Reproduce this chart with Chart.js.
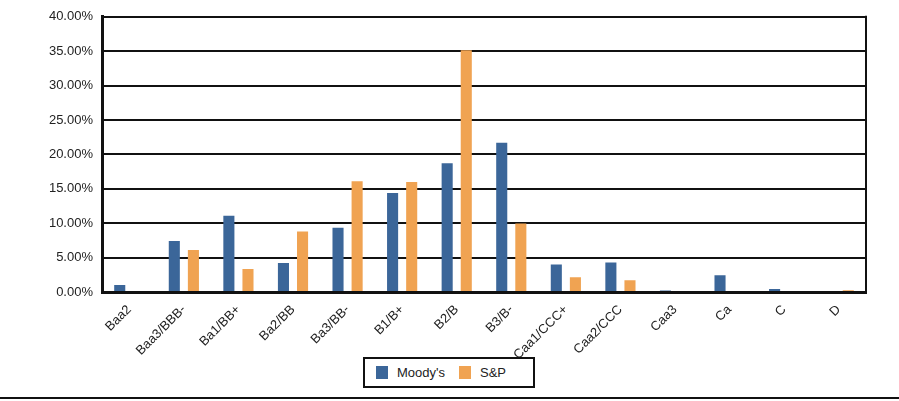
<!DOCTYPE html>
<html>
<head>
<meta charset="utf-8">
<script src="https://cdn.jsdelivr.net/npm/chart.js@4"></script>
<style>
  html, body { margin: 0; padding: 0; background: #fff; }
  #wrap { position: relative; width: 899px; height: 401px; overflow: hidden; }
  #chart { position: absolute; left: 0; top: 0; }
  #legend {
    position: absolute; left: 363px; top: 357px; width: 168px; height: 27px;
    border: 2px solid #111; background: #fff;
    font: 13px "Liberation Sans", Arial, sans-serif; color: #222;
  }
  #legend .item { position: absolute; top: 7px; line-height: 14px; }
  #legend .sw { display: inline-block; width: 12px; height: 13px; vertical-align: -2px; margin-right: 9px; }
  #rule { position: absolute; left: 0; top: 397px; width: 899px; height: 2px; background: #111; }
</style>
</head>
<body>
<div id="wrap">
  <canvas id="chart" width="899" height="401"></canvas>
  <div id="legend"></div>
  <div id="rule"></div>
</div>
<script>
// rating buckets and the share (%) for each agency
const ratings = ['Baa2', 'Baa3/BBB-', 'Ba1/BB+', 'Ba2/BB', 'Ba3/BB-', 'B1/B+', 'B2/B',
  'B3/B-', 'Caa1/CCC+', 'Caa2/CCC', 'Caa3', 'Ca', 'C', 'D'];
const moodys = [1.0, 7.4, 11.1, 4.2, 9.35, 14.4, 18.7, 21.7, 4.0, 4.3, 0.2, 2.45, 0.45, 0];
const sp = [0, 6.1, 3.35, 8.8, 16.1, 16.0, 35.15, 9.97, 2.16, 1.7, 0, 0, 0, 0.25];
const yTicks = [0, 5, 10, 15, 20, 25, 30, 35, 40];

const FONT = '"Liberation Sans", Arial, sans-serif';
const series = [
  { label: "Moody's", data: moodys, color: '#3b6699' },
  { label: 'S&P', data: sp, color: '#f0a352' }
];

/**
 * Draws the right-hand edge of the plot frame.
 */
const frame = {
  id: 'frame',
  afterDraw(chart) {
    const { ctx, chartArea: a } = chart;
    ctx.save();
    ctx.strokeStyle = '#111';
    ctx.lineWidth = 2;
    ctx.beginPath();
    ctx.moveTo(a.right, a.top - 1);
    ctx.lineTo(a.right, a.bottom + 1);
    ctx.stroke();
    ctx.restore();
  }
};

/**
 * Builds the legend box below the chart.
 */
function buildLegend() {
  const box = document.getElementById('legend');
  const lefts = [11, 94];
  series.forEach((s, i) => {
    const el = document.createElement('span');
    el.className = 'item';
    el.style.left = lefts[i] + 'px';
    el.innerHTML = `<span class="sw" style="background:${s.color}"></span>${s.label.replace('&', '&amp;')}`;
    box.appendChild(el);
  });
}

function init() {
  const ctx = document.getElementById('chart').getContext('2d');
  new Chart(ctx, {
    type: 'bar',
    data: {
      labels: ratings,
      datasets: series.map(s => ({
        label: s.label,
        data: s.data,
        backgroundColor: s.color,
        categoryPercentage: 0.7,
        barPercentage: 0.58
      }))
    },
    options: {
      responsive: false,
      animation: false,
      layout: { padding: { top: 14, right: 33, bottom: 0, left: 0 } },
      plugins: {
        legend: { display: false },
        tooltip: { enabled: false }
      },
      scales: {
        x: {
          grid: { display: false },
          border: { color: '#111', width: 3 },
          ticks: {
            color: '#222',
            font: { family: FONT, size: 13 },
            minRotation: 45,
            maxRotation: 45,
            padding: 2
          },
          afterFit: scale => { scale.height = 109; }
        },
        y: {
          min: 0,
          max: 40,
          afterBuildTicks: scale => { scale.ticks = yTicks.map(v => ({ value: v })); },
          grid: { color: '#111', lineWidth: 2, drawTicks: false },
          border: { color: '#111', width: 3 },
          ticks: {
            color: '#222',
            font: { family: FONT, size: 13 },
            padding: 9,
            callback: v => v.toFixed(2) + '%'
          },
          afterFit: scale => { scale.width = 102; }
        }
      }
    },
    plugins: [frame]
  });
  buildLegend();
}

document.addEventListener('DOMContentLoaded', init);
</script>
</body>
</html>
